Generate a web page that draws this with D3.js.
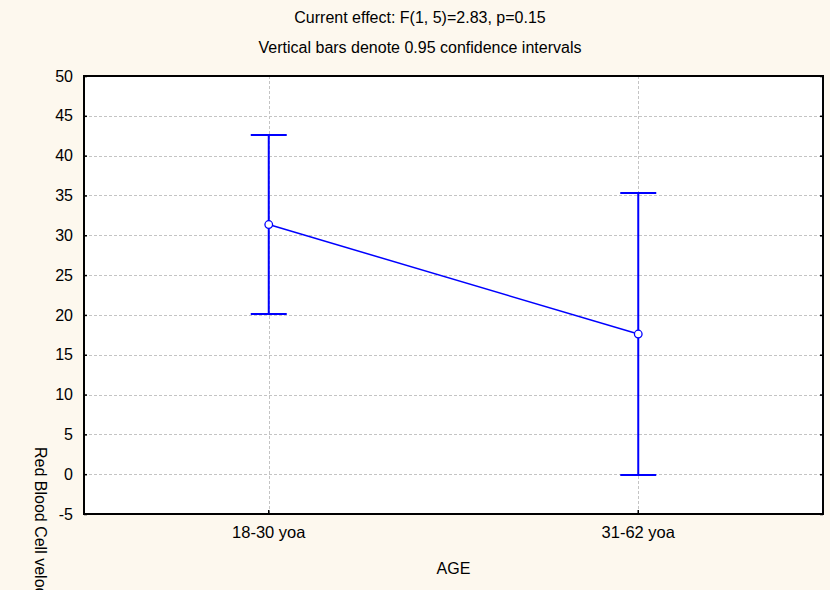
<!DOCTYPE html>
<html>
<head>
<meta charset="utf-8">
<script src="https://cdn.jsdelivr.net/npm/d3@7/dist/d3.min.js"></script>
<style>
  html, body { margin: 0; padding: 0; background: #fdf8ee; }
  svg { display: block; }
  text { font-family: "Liberation Sans", Arial, sans-serif; fill: #000; }
</style>
</head>
<body>
<svg id="chart" width="830" height="590"></svg>
<script>
// Age groups and mean red blood cell velocity with 0.95 confidence limits
const categories = ["18-30 yoa", "31-62 yoa"];
const means = [31.35, 17.6];
const lowerCI = [20.1, -0.1];
const upperCI = [42.6, 35.3];
const yTicks = [-5, 0, 5, 10, 15, 20, 25, 30, 35, 40, 45, 50];
const titleLines = ["Current effect: F(1, 5)=2.83, p=0.15", "Vertical bars denote 0.95 confidence intervals"];
const xTitle = "AGE";
const yTitle = "Red Blood Cell velocity";

const svg = d3.select("#chart");
const W = 830, H = 590;
const m = { left: 84, right: 7, top: 76, bottom: 76 };
const pw = W - m.left - m.right, ph = H - m.top - m.bottom;

svg.append("rect").attr("width", W).attr("height", H).attr("fill", "#fdf8ee");

const x = d3.scaleBand().domain(categories).range([0, pw]).paddingInner(0).paddingOuter(0);
const xc = d => x(d) + x.bandwidth() / 2;
const y = d3.scaleLinear().domain([-5, 50]).range([ph, 0]);

const g = svg.append("g").attr("transform", `translate(${m.left},${m.top})`);

g.append("rect").attr("width", pw).attr("height", ph).attr("fill", "#fff");

// dashed grid
const grid = g.append("g").attr("stroke", "#c4c4c4").attr("stroke-width", 1).attr("stroke-dasharray", "3,2");
grid.selectAll("line.h").data(yTicks.filter(t => t > -5 && t < 50)).join("line")
  .attr("x1", 0).attr("x2", pw)
  .attr("y1", d => Math.round(y(d)) + 0.5).attr("y2", d => Math.round(y(d)) + 0.5);
grid.selectAll("line.v").data(categories).join("line")
  .attr("y1", 0).attr("y2", ph)
  .attr("x1", d => Math.round(xc(d)) + 0.5).attr("x2", d => Math.round(xc(d)) + 0.5);

// axes with inward ticks
const yAxisL = d3.axisLeft(y).tickValues(yTicks).tickSize(-3).tickPadding(10).tickFormat(d => String(d));
const gyl = g.append("g").call(yAxisL);
gyl.select(".domain").remove();
gyl.selectAll(".tick line").attr("stroke", "#000").attr("stroke-width", 1.5);
gyl.selectAll(".tick text").attr("font-size", 16).attr("x", -11);

const gyr = g.append("g").attr("transform", `translate(${pw},0)`)
  .call(d3.axisRight(y).tickValues(yTicks).tickSize(-3).tickFormat(""));
gyr.select(".domain").remove();
gyr.selectAll(".tick line").attr("stroke", "#000").attr("stroke-width", 1.5);

const gx = g.append("g").attr("transform", `translate(0,${ph})`)
  .call(d3.axisBottom(x).tickSize(-4).tickPadding(12));
gx.select(".domain").remove();
gx.selectAll(".tick line").attr("stroke", "#000").attr("stroke-width", 1.5);
gx.selectAll(".tick text").attr("font-size", 16.5);

// frame
g.append("rect").attr("width", pw).attr("height", ph)
  .attr("fill", "none").attr("stroke", "#000").attr("stroke-width", 2);

// error bars
const blue = "#0000ff";
const capHalf = 18;
const bars = g.append("g").attr("stroke", blue).attr("stroke-width", 2);
categories.forEach((c, i) => {
  const cx = xc(c);
  bars.append("line").attr("x1", cx).attr("x2", cx).attr("y1", y(lowerCI[i])).attr("y2", y(upperCI[i]));
  bars.append("line").attr("x1", cx - capHalf).attr("x2", cx + capHalf).attr("y1", y(upperCI[i])).attr("y2", y(upperCI[i]));
  bars.append("line").attr("x1", cx - capHalf).attr("x2", cx + capHalf).attr("y1", y(lowerCI[i])).attr("y2", y(lowerCI[i]));
});

// mean line and markers
const pts = categories.map((c, i) => [xc(c), y(means[i])]);
g.append("path").attr("d", d3.line()(pts)).attr("fill", "none").attr("stroke", blue).attr("stroke-width", 1.5);
g.selectAll("circle.pt").data(pts).join("circle")
  .attr("cx", d => d[0]).attr("cy", d => d[1]).attr("r", 3.8)
  .attr("fill", "#fff").attr("stroke", blue).attr("stroke-width", 1.3);

// titles
svg.selectAll("text.title").data(titleLines).join("text")
  .attr("x", 420).attr("y", (d, i) => 23 + i * 30)
  .attr("text-anchor", "middle").attr("font-size", 16).text(d => d);

svg.append("text").attr("x", m.left + pw / 2).attr("y", 574)
  .attr("text-anchor", "middle").attr("font-size", 16).text(xTitle);

svg.append("text").attr("transform", "translate(35,447) rotate(90)")
  .attr("text-anchor", "start").attr("font-size", 16).text(yTitle);
</script>
</body>
</html>
